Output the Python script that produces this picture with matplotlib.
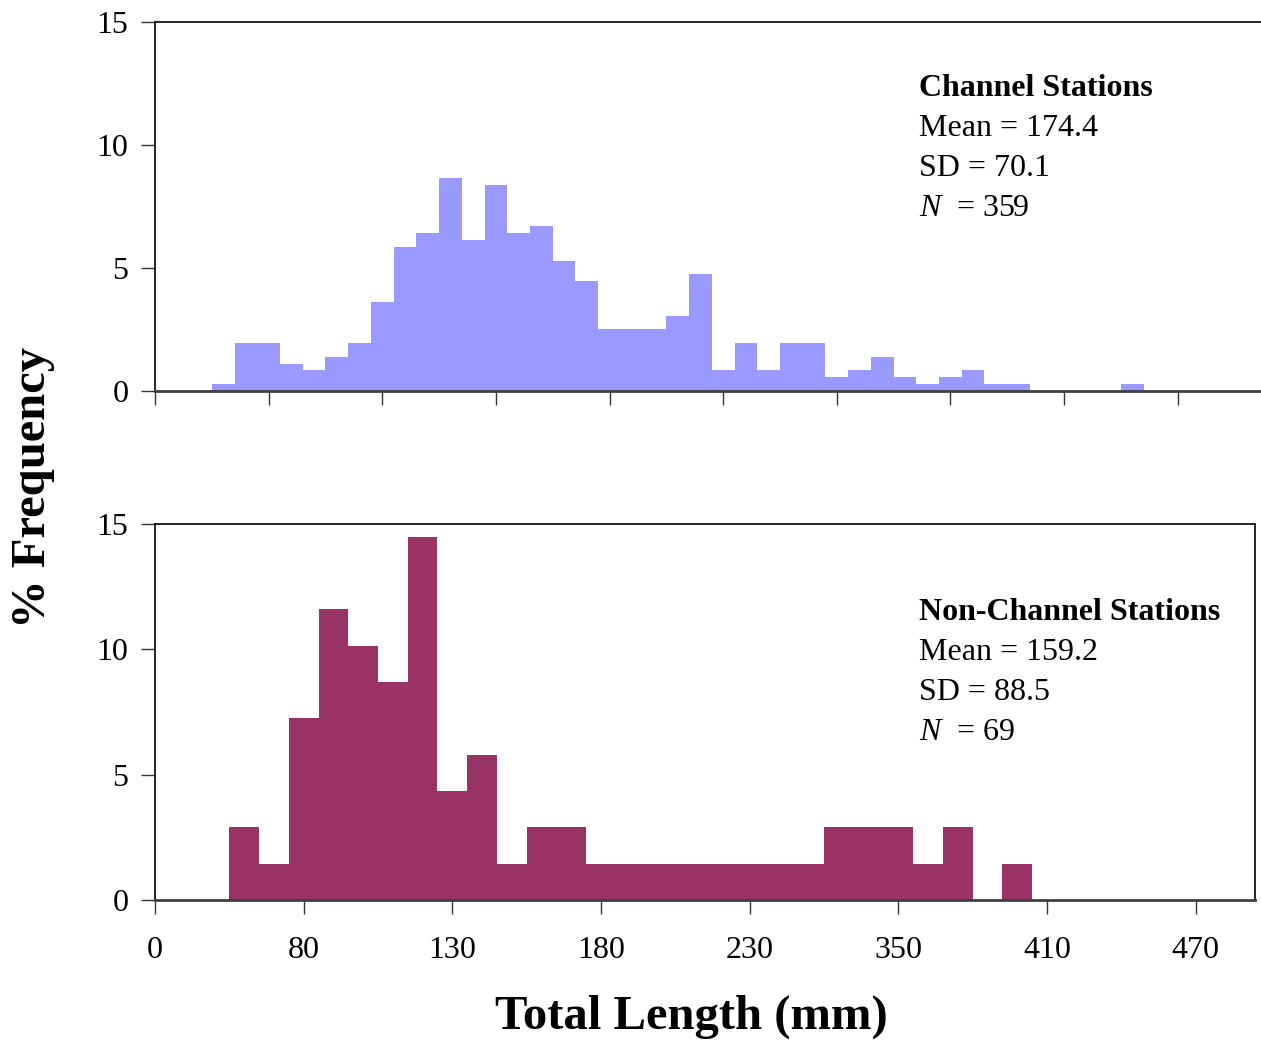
import numpy as np
import matplotlib
matplotlib.use("Agg")
import matplotlib.pyplot as plt

plt.rcParams['font.family'] = ['Liberation Serif', 'DejaVu Serif']
plt.rcParams['mathtext.fontset'] = 'custom'
plt.rcParams['mathtext.it'] = 'Liberation Serif:italic'
plt.rcParams['mathtext.rm'] = 'Liberation Serif'

# % frequency per length bin, first non-empty bin is bin 3
channel_pct = [0.28, 1.95, 1.95, 1.11, 0.84, 1.39, 1.95, 3.62, 5.85, 6.41,
               8.64, 6.13, 8.36, 6.41, 6.69, 5.29, 4.46, 2.51, 2.51, 2.51,
               3.06, 4.74, 0.84, 1.95, 0.84, 1.95, 1.95, 0.56, 0.84, 1.39,
               0.56, 0.28, 0.56, 0.84, 0.28, 0.28, 0, 0, 0, 0, 0.28]
nonchannel_pct = [2.90, 1.45, 7.25, 11.59, 10.14, 8.70, 14.49, 4.35, 5.80, 1.45,
                  2.90, 2.90, 1.45, 1.45, 1.45, 1.45, 1.45, 1.45, 1.45, 1.45,
                  2.90, 2.90, 2.90, 1.45, 2.90, 0, 1.45]
first_bin = 3

length_labels = ['0', '80', '130', '180', '230', '350', '410', '470']
y_ticks = [0, 5, 10, 15]

channel_stats = ['Mean = 174.4', 'SD = 70.1', '$N$  = 359']
nonchannel_stats = ['Mean = 159.2', 'SD = 88.5', '$N$  = 69']

W, H = 1261, 1040
fig = plt.figure(figsize=(W / 100, H / 100), dpi=100)

ax1 = fig.add_axes([155 / W, 1 - 391 / H, 1 - 155 / W + 0.001, 369 / H])
ax2 = fig.add_axes([155 / W, 1 - 900 / H, 1100 / W, 376 / H])

x1 = np.arange(first_bin, first_bin + len(channel_pct))
x2 = np.arange(first_bin, first_bin + len(nonchannel_pct))
ax1.bar(x1, channel_pct, width=1.0, color='#9999FF', linewidth=0)
ax2.bar(x2, nonchannel_pct, width=1.0, color='#993366', linewidth=0)

ax1.set_xlim(0, 1106 / 22.7)
ax2.set_xlim(0, 37)

for ax in (ax1, ax2):
    ax.set_ylim(0, 15)
    ax.set_yticks(y_ticks)
    ax.tick_params(axis='both', direction='out', length=10, width=1,
                   labelsize=23, color='#333333')
    ax.tick_params(axis='y', pad=9)
    ax.tick_params(axis='x', pad=16)
    for s in ax.spines.values():
        s.set_linewidth(1.2)
        s.set_color('black')
    ax.spines['bottom'].set_color('#404040')
    ax.spines['bottom'].set_linewidth(2)

ax1.set_xticks(np.arange(0, 50, 5))
ax1.set_xticklabels([])
ax1.spines['right'].set_visible(False)

ax2.set_xticks(np.arange(0, 40, 5))
ax2.set_xticklabels(length_labels)

# stats text
def stats_block(title, lines, x_px, y0_px):
    fig.text(x_px / W, 1 - y0_px / H, title, fontsize=23, fontweight='bold',
             ha='left', va='center')
    for i, line in enumerate(lines):
        fig.text(x_px / W, 1 - (y0_px + 40 * (i + 1)) / H, line, fontsize=23,
                 ha='left', va='center')

stats_block('Channel Stations', channel_stats, 919, 88)
stats_block('Non-Channel Stations', nonchannel_stats, 919, 612)

fig.text(691 / W, 1 - 1017 / H, 'Total Length (mm)', fontsize=35,
         fontweight='bold', ha='center', va='center')
fig.text(33 / W, 1 - 487 / H, '% Frequency', fontsize=35, fontweight='bold',
         rotation=90, ha='center', va='center')

fig.savefig('out.png', dpi=100)
